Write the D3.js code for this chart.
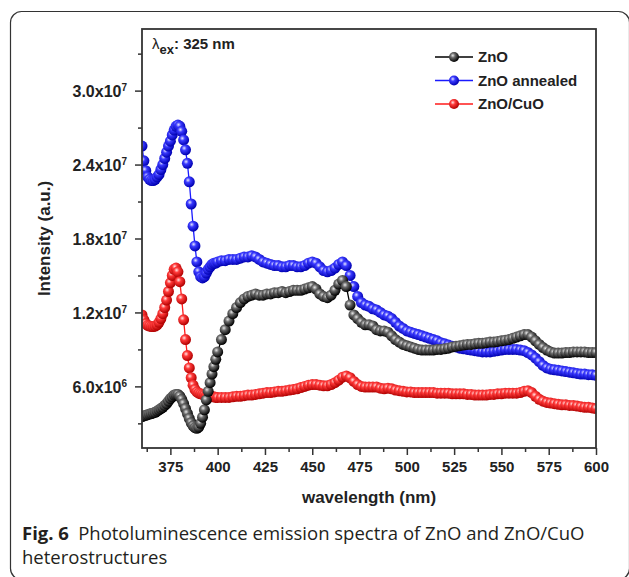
<!DOCTYPE html>
<html>
<head>
<meta charset="utf-8">
<script src="https://cdn.jsdelivr.net/npm/d3@7"></script>
<style>
  body { margin: 0; background: #fff; }
  svg { display: block; }
  .axis text { font-family: "Liberation Sans", Arial, sans-serif; font-weight: bold; fill: #222; }
</style>
</head>
<body>
<svg width="629" height="577"></svg>
<script>
var svg = d3.select("svg");

var width = 629, height = 577;
var margin = {left: 142, right: 33, top: 29, bottom: 129};

// sampled wavelengths (nm): 1 nm up to 400, then 2 nm
var wavelength = [360,361,362,363,364,365,366,367,368,369,370,
  371,372,373,374,375,376,377,378,379,380,
  381,382,383,384,385,386,387,388,389,390,
  391,392,393,394,395,396,397,398,399,400,
  402,404,406,408,410,412,414,416,418,420,
  422,424,426,428,430,432,434,436,438,440,
  442,444,446,448,450,452,454,456,458,460,
  462,464,466,468,470,472,474,476,478,480,
  482,484,486,488,490,492,494,496,498,500,
  502,504,506,508,510,512,514,516,518,520,
  522,524,526,528,530,532,534,536,538,540,
  542,544,546,548,550,552,554,556,558,560,
  562,564,566,568,570,572,574,576,578,580,
  582,584,586,588,590,592,594,596,598,600];

// intensities, in units of 1e6 a.u.
var znO = [3.55,3.6,3.65,3.7,3.75,3.8,3.85,3.9,4.0,4.1,4.2,
  4.3,4.45,4.6,4.8,5.0,5.15,5.3,5.35,5.35,5.2,
  4.95,4.6,4.2,3.8,3.4,3.05,2.8,2.65,2.6,2.7,
  3.0,3.5,4.1,4.9,5.6,6.3,7.0,7.6,8.2,8.8,
  9.8,10.6,11.3,11.9,12.4,12.8,13.1,13.3,13.4,13.5,
  13.4,13.4,13.5,13.5,13.6,13.6,13.7,13.6,13.7,13.8,
  13.8,13.8,13.9,14.0,14.1,13.9,13.5,13.3,13.2,13.4,
  13.8,14.3,14.6,14.1,12.6,11.8,11.5,11.2,11.0,11.0,
  10.9,10.6,10.5,10.5,10.4,10.1,9.8,9.6,9.4,9.3,
  9.2,9.1,9.0,8.95,8.95,8.95,8.95,9.0,9.0,9.05,
  9.1,9.2,9.25,9.3,9.35,9.4,9.4,9.45,9.5,9.5,
  9.55,9.6,9.6,9.65,9.7,9.75,9.8,9.9,10.0,10.1,
  10.2,10.2,10.0,9.7,9.4,9.15,8.95,8.8,8.7,8.7,
  8.7,8.75,8.75,8.8,8.8,8.8,8.8,8.75,8.75,8.75];

var znOAnnealed = [25.5,24.3,23.5,23.0,22.8,22.7,22.7,22.8,23.0,23.2,23.6,
  24.0,24.5,25.0,25.5,25.9,26.4,26.8,27.1,27.2,27.1,
  26.7,26.0,25.2,24.1,22.6,20.8,19.0,17.4,16.1,15.3,
  14.9,14.8,14.9,15.2,15.5,15.7,15.9,16.0,16.0,16.1,
  16.2,16.2,16.3,16.3,16.3,16.4,16.5,16.5,16.6,16.5,
  16.3,16.1,16.0,15.9,15.8,15.8,15.7,15.7,15.8,15.8,
  15.7,15.7,15.8,16.0,16.1,16.0,15.7,15.4,15.3,15.4,
  15.6,15.9,16.1,15.8,15.0,14.1,13.3,12.8,12.6,12.5,
  12.3,12.2,12.0,11.8,11.7,11.5,11.2,10.9,10.7,10.5,
  10.4,10.3,10.2,10.1,10.0,9.9,9.8,9.7,9.55,9.45,
  9.35,9.25,9.2,9.1,9.05,9.0,8.95,8.9,8.85,8.8,
  8.8,8.8,8.85,8.9,8.95,9.0,9.0,9.0,9.0,8.95,
  8.9,8.75,8.55,8.3,8.0,7.7,7.5,7.4,7.35,7.3,
  7.25,7.2,7.15,7.1,7.05,7.0,7.0,6.95,6.95,6.9];

var znOCuO = [11.8,11.4,11.1,10.95,10.9,10.85,10.85,10.9,11.0,11.2,11.5,
  11.9,12.4,13.0,13.7,14.4,15.0,15.5,15.6,15.3,14.5,
  13.1,11.4,9.8,8.5,7.5,6.7,6.1,5.75,5.55,5.45,
  5.4,5.35,5.3,5.25,5.2,5.2,5.15,5.15,5.1,5.1,
  5.1,5.1,5.1,5.15,5.2,5.2,5.25,5.3,5.3,5.35,
  5.4,5.45,5.5,5.5,5.55,5.6,5.6,5.65,5.7,5.75,
  5.8,5.9,6.0,6.1,6.15,6.15,6.1,6.05,6.05,6.15,
  6.3,6.5,6.75,6.85,6.7,6.4,6.15,6.0,5.95,5.95,
  5.95,5.95,5.85,5.8,5.85,5.8,5.7,5.65,5.6,5.55,
  5.55,5.5,5.5,5.5,5.5,5.5,5.5,5.45,5.45,5.45,
  5.45,5.4,5.4,5.4,5.4,5.35,5.35,5.3,5.3,5.3,
  5.3,5.35,5.35,5.4,5.4,5.45,5.45,5.45,5.45,5.5,
  5.6,5.65,5.5,5.2,4.95,4.8,4.7,4.65,4.6,4.55,
  4.5,4.5,4.45,4.45,4.4,4.35,4.3,4.3,4.25,4.2];

var seriesNames = ["ZnO", "ZnO annealed", "ZnO/CuO"];
var seriesColors = ["#000000", "#1a1aff", "#ff1a1a"];
var seriesData = [znO, znOAnnealed, znOCuO];

var xTicks = [375, 400, 425, 450, 475, 500, 525, 550, 575, 600];
var yTicks = [6, 12, 18, 24, 30];
var yTickMantissa = ["6.0", "1.2", "1.8", "2.4", "3.0"];
var yTickExponent = ["6", "7", "7", "7", "7"];

var x = d3.scaleLinear().domain([360, 600]).range([margin.left, width - margin.right]);
var y = d3.scaleLinear().domain([1, 35]).range([height - margin.bottom, margin.top]);

var defs = svg.append("defs");
defs.append("clipPath").attr("id", "plotclip")
  .append("rect")
  .attr("x", margin.left).attr("y", margin.top)
  .attr("width", width - margin.left - margin.right)
  .attr("height", height - margin.top - margin.bottom);

// shaded ball markers
var shades = [
  ["#e8e8e8", "#6a6a6a", "#000000"],
  ["#e6e6ff", "#3a3aff", "#0000b0"],
  ["#ffe6e6", "#ff3a3a", "#b00000"]
];
shades.forEach(function(s, i) {
  var g = defs.append("radialGradient")
    .attr("id", "ball" + i)
    .attr("cx", "38%").attr("cy", "35%").attr("r", "65%");
  g.append("stop").attr("offset", "0%").attr("stop-color", s[0]);
  g.append("stop").attr("offset", "35%").attr("stop-color", s[1]);
  g.append("stop").attr("offset", "100%").attr("stop-color", s[2]);
});

// outer rounded figure box
svg.append("rect")
  .attr("x", 10.5).attr("y", 11.5)
  .attr("width", 619).attr("height", 568)
  .attr("rx", 11)
  .attr("fill", "none")
  .attr("stroke", "#333")
  .attr("stroke-width", 1.2);

var line = d3.line()
  .x(function(d, i) { return x(wavelength[i]); })
  .y(function(d) { return y(d); });

var gData = svg.append("g").attr("clip-path", "url(#plotclip)");
var drawOrder = [2, 1, 0];
drawOrder.forEach(function(k) {
  var g = gData.append("g");
  g.append("path")
    .datum(seriesData[k])
    .attr("d", line)
    .attr("fill", "none")
    .attr("stroke", seriesColors[k])
    .attr("stroke-width", 1.3);
  g.selectAll("circle")
    .data(seriesData[k])
    .enter()
    .append("circle")
    .attr("cx", function(d, i) { return x(wavelength[i]); })
    .attr("cy", function(d) { return y(d); })
    .attr("r", 5.5)
    .attr("fill", "url(#ball" + k + ")");
});

// axes
var xAxis = svg.append("g")
  .attr("class", "axis")
  .attr("transform", "translate(0," + (height - margin.bottom) + ")")
  .call(d3.axisBottom(x).tickValues(xTicks).tickSize(7).tickPadding(6).tickFormat(d3.format("d")));
svg.append("g")
  .attr("class", "axis")
  .attr("transform", "translate(0," + (height - margin.bottom) + ")")
  .call(d3.axisBottom(x).tickValues(d3.range(362.5, 600, 25)).tickSize(4).tickFormat(""));

var yAxis = svg.append("g")
  .attr("class", "axis")
  .attr("transform", "translate(" + margin.left + ",0)")
  .call(d3.axisLeft(y).tickValues(yTicks).tickSize(7).tickPadding(6).tickFormat(""));
svg.append("g")
  .attr("class", "axis")
  .attr("transform", "translate(" + margin.left + ",0)")
  .call(d3.axisLeft(y).tickValues([3, 9, 15, 21, 27, 33]).tickSize(4).tickFormat(""));

svg.selectAll(".axis .domain").remove();
svg.selectAll(".axis line").attr("stroke", "#333").attr("stroke-width", 1.5);
xAxis.selectAll("text").style("font-size", "15px");

yAxis.selectAll(".tick").each(function(d, i) {
  var t = d3.select(this).append("text")
    .attr("x", -15).attr("dy", "0.38em")
    .attr("text-anchor", "end")
    .style("font-size", "16px");
  t.append("tspan").text(yTickMantissa[i] + "x10");
  t.append("tspan").attr("dy", "-0.6em").style("font-size", "10px").text(yTickExponent[i]);
});

// plot frame
svg.append("rect")
  .attr("x", margin.left).attr("y", margin.top)
  .attr("width", width - margin.left - margin.right)
  .attr("height", height - margin.top - margin.bottom)
  .attr("fill", "none")
  .attr("stroke", "#333")
  .attr("stroke-width", 1.8);

var font = "'Liberation Sans', Arial, sans-serif";

// excitation note
var ex = svg.append("text")
  .attr("x", 152).attr("y", 49)
  .style("font-family", font).style("font-weight", "bold").style("font-size", "15px")
  .attr("fill", "#222");
ex.append("tspan").text("λ").style("font-weight", "normal");
ex.append("tspan").attr("dy", 5).style("font-size", "13px").text("ex");
ex.append("tspan").attr("dy", -5).text(": 325 nm");

// legend
var legend = svg.append("g").attr("transform", "translate(435,57)");
seriesNames.forEach(function(name, i) {
  var row = legend.append("g").attr("transform", "translate(0," + (i * 23.5) + ")");
  row.append("line").attr("x1", 0).attr("x2", 38)
    .attr("stroke", seriesColors[i]).attr("stroke-width", 1.5);
  row.append("circle").attr("cx", 19).attr("r", 5).attr("fill", "url(#ball" + i + ")");
  row.append("text").attr("x", 43).attr("dy", "0.36em")
    .style("font-family", font).style("font-weight", "bold").style("font-size", "15px")
    .attr("fill", "#222").text(name);
});

// axis titles
svg.append("text")
  .attr("x", (margin.left + width - margin.right) / 2).attr("y", 503)
  .attr("text-anchor", "middle")
  .style("font-family", font).style("font-weight", "bold").style("font-size", "17px")
  .attr("fill", "#222").text("wavelength (nm)");

svg.append("text")
  .attr("transform", "translate(50," + ((margin.top + height - margin.bottom) / 2) + ") rotate(-90)")
  .attr("text-anchor", "middle")
  .style("font-family", font).style("font-weight", "bold").style("font-size", "17px")
  .attr("fill", "#222").text("Intensity (a.u.)");

// caption
var cap = svg.append("text")
  .attr("x", 22).attr("y", 540)
  .style("font-family", "'Open Sans', 'Noto Sans', sans-serif").style("font-size", "18.5px")
  .attr("fill", "#231f20");
cap.append("tspan").style("font-weight", "bold").text("Fig. 6");
cap.append("tspan").text("\u2002Photoluminescence emission spectra of ZnO and ZnO/CuO");
svg.append("text")
  .attr("x", 22).attr("y", 564)
  .style("font-family", "'Open Sans', 'Noto Sans', sans-serif").style("font-size", "18.5px")
  .attr("fill", "#231f20").text("heterostructures");
</script>
</body>
</html>
